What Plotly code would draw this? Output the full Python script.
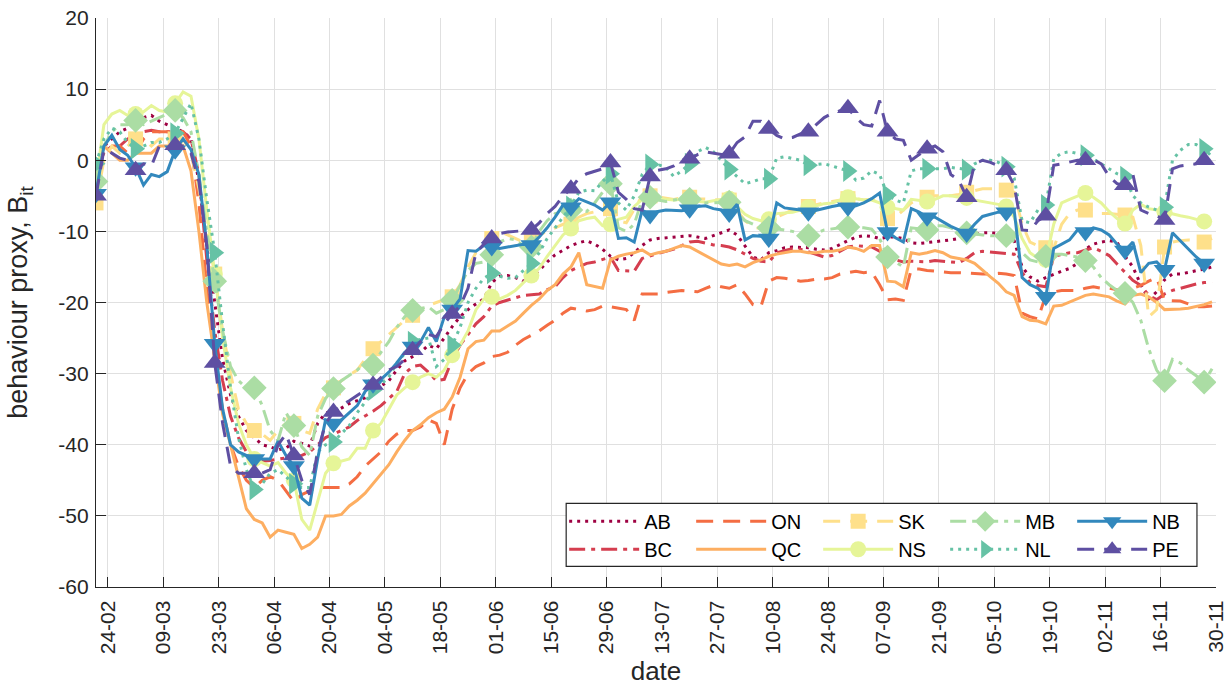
import pandas as pd
import plotly.graph_objects as go

# ---------------- data (every 2 days from 21 Feb 2020) ----------------
START_DATE = "2020-02-21"
STEP = "2D"

AB = [-1, 2, 3, 4, 4.5, 5, 6, 6.3, 5.5, 5,
      4.5, 4, 3, -3, -12, -20, -28, -33, -36, -38,
      -39, -40, -40.3, -40.7, -40.5, -39.5, -39.8, -40.2, -37, -35.5,
      -35.5, -34.8, -34.2, -33.8, -33.4, -32.5, -31.8, -31, -29.5, -28.2,
      -27.6, -27, -26, -26.5, -25, -23.4, -22, -21, -20.2, -19.5,
      -17.2, -16.3, -16.2, -16.5, -17, -16.4, -15.5, -14.3, -13.3, -12.6,
      -12, -11.6, -11.3, -11.8, -12.5, -13.5, -14, -13.8, -13, -12,
      -11.2, -11, -10.9, -10.8, -10.6, -10.6, -10.8, -11, -10.6, -10.2,
      -9.8, -10.5, -12, -13.6, -14, -13, -12.7, -12.3, -12.2, -12.2,
      -12.3, -12.5, -12.6, -12.4, -11.8, -11.3, -10.8, -10.6, -10.7, -11,
      -10.8, -10.8, -11, -11.6, -11.7, -11.6, -11.5, -11.3, -11.2, -11,
      -10.8, -10.4, -10.2, -10.2, -10.3, -10.3, -11.3, -15, -16.4, -17,
      -16.5, -16, -15.6, -15.2, -14.5, -12.5, -11.8, -11.5, -11.3, -11.5,
      -13.5, -15, -17.5, -19.5, -18.5, -16.8, -16, -16, -15.8, -15.5,
      -15.3, -15]

BC = [-1, 1, 2, 2, 3, 3.5, 4, 4.2, 4, 4,
      4, 4, 3, -2, -14, -24, -31, -36, -39, -41,
      -42, -42.3, -42.2, -42, -41.8, -41.6, -41.5, -41, -40, -39,
      -38.5, -38, -37.5, -36.6, -36, -35.3, -34.5, -33.5, -32.5, -30,
      -29, -28.8, -29.8, -31, -30.8, -28, -26, -24.5, -23, -22,
      -20.5, -20, -19.7, -19.3, -19, -18.9, -18.8, -18.2, -17.8, -16.5,
      -15.5, -15, -14.5, -14.3, -14, -13.6, -15.5, -15.6, -15.6, -13.8,
      -13.4, -13.1, -12.8, -12.5, -12, -11.5, -11.4, -11.7, -11.9, -12,
      -12.2, -12.6, -13.2, -13.8, -14.2, -14.3, -13, -12.7, -12.4, -12.5,
      -12.9, -13.2, -13.6, -13.4, -12.8, -12.2, -12, -12.1, -12.2, -12.8,
      -13.5, -14, -14.3, -14.2, -14.2, -14.3, -14.1, -14.2, -14.3, -14.4,
      -13.8, -13, -12.8, -12.9, -13, -13.1, -13.2, -15.8, -17.2, -17.6,
      -17.8, -13.5, -13.2, -13, -13, -12.6, -12.3, -12.8, -13.4, -14.6,
      -15.8, -16.9, -17.6, -19, -19.6, -18.8, -18.3, -18, -17.6, -17.4,
      -17.2, -17.1]

ON = [-1, 1, 2, 2, 1, 1, 3, 4, 4, 4,
      4, 4, 2, -6, -18, -28, -35, -40, -43, -45,
      -46, -45, -44.5, -45, -46.5, -48, -47, -46.5, -46, -46,
      -46, -46, -45.5, -44.5, -43, -42, -41, -39.5, -38.5, -38,
      -38, -37.5, -36.5, -37, -40, -35, -32, -30, -29, -28.5,
      -27.6, -27.4, -27, -26, -25.2, -24.6, -24, -23.2, -22.5, -21.5,
      -20.8, -21, -21.2, -21, -20.5, -20.6, -20.8, -21, -22.5, -18.8,
      -18.8, -18.8, -18.6, -18.5, -18.3, -18.4, -18.5, -18, -17.6, -17.8,
      -18, -17.5, -18.8, -20.3, -20.6, -17, -16.5, -16.6, -16.8, -17,
      -16.9, -16.7, -16.7, -16.5, -16, -15.8, -15.6, -15.8, -15.7, -17.5,
      -19.6, -19.5, -19.7, -15.3, -15.3, -15.5, -15.6, -15.8, -15.8, -15.8,
      -15.9, -16, -16, -16, -15.9, -16, -16.2, -21.5, -22, -22.3,
      -19, -18.5, -18.3, -18.3, -18.3, -18, -17.8, -18, -18, -18.2,
      -18.3, -18, -17.6, -17, -16.5, -19.7, -19.8, -19.8, -20.2, -20.6,
      -20.6, -20.5]

QC = [-2, 2, 1, 0, 0, 1, 1, 1, 2, 2,
      2, 2, -1.5, -10, -20, -28, -35.7, -40, -44.5, -49,
      -50.5, -51, -53, -52, -52.3, -52.6, -54.6, -54, -53, -50,
      -50, -49.8, -48.6, -47.8, -46.8, -45.5, -44.2, -42.8, -41, -39.4,
      -38, -37.2, -36.2, -35.5, -35, -33.3, -30.5, -26.5, -25.5, -25.3,
      -24, -24, -23.3, -22.6, -21.5, -20.4, -19.5, -18.3, -17.5, -16,
      -15, -13, -17.5, -17.8, -18, -14, -13.5, -13.2, -13, -12.6,
      -13.3, -13, -12.8, -12.4, -12, -12.2, -12.8, -13.4, -14, -14.6,
      -14.8, -14.6, -15, -14.4, -14, -13.5, -13.2, -13, -12.8, -12.8,
      -13, -13, -12.8, -12.8, -12.6, -12.2, -12.4, -12.8, -12, -12,
      -17, -17.1, -17.8, -13, -13.2, -13, -12.7, -13, -13.6, -13.8,
      -14, -14.5, -15.5, -16.4, -17.3, -18.5, -19, -22, -22.5, -22.6,
      -23, -20.5, -20.4, -19.9, -19.5, -19, -18.8, -19, -19.2, -19.8,
      -20.2, -19, -18.8, -19.2, -20, -21, -21, -20.9, -20.8, -20.6,
      -20.3, -19.9]

SK = [-6, 0, 2, 1, 2, 3, 3, 2, 3, 3,
      3, 3, 1, -4, -10, -16, -24, -30, -35, -37,
      -38, -38.5, -39.4, -38, -37, -37, -38, -38.4, -35, -32.8,
      -32, -31, -30.2, -29.5, -28, -26.5, -25.5, -24.5, -23.5, -22.5,
      -21.8, -21, -20.4, -20, -19.6, -19.2, -17.5, -15, -13, -12,
      -11, -10, -10.5, -11, -11.5, -11, -10.5, -10, -9.5, -9,
      -9, -8, -7.5, -7.2, -7, -6.8, -8.5, -8.8, -7, -5,
      -5, -5.2, -5.4, -5.5, -5.3, -5.2, -5.4, -5.5, -5.6, -5.6,
      -5.6, -7, -8.5, -9.4, -9.6, -9, -8, -7.5, -7, -6.8,
      -6.5, -6.2, -6, -5.8, -5.6, -5.4, -5.4, -5.6, -5.5, -6,
      -8.2, -8, -7, -6, -5.5, -5.2, -5, -5, -5, -4.8,
      -4.5, -4.2, -4, -4, -4, -4.2, -4.5, -9, -11.5, -12,
      -12.3, -12.4, -9, -7.5, -7, -7, -7.2, -7.5, -7.5, -7.6,
      -7.7, -8, -12, -22, -21, -12.2, -11.5, -11.3, -11.2, -11.3,
      -11.5, -11]

NS = [-3, 5, 6.5, 7, 6.3, 6.5, 6.8, 7.7, 7, 6.8,
      8, 9.6, 9, 3, -7, -16, -25, -32, -37, -40,
      -42, -42.5, -43, -42.5, -44, -45, -50.5, -52, -48, -44,
      -42.6, -42.3, -42, -40.5, -40.5, -38, -37, -35, -33, -32,
      -31.2, -30.5, -30, -30.5, -29.5, -27.4, -26, -24, -21, -19.5,
      -19.2, -19.5, -19, -18.3, -17.2, -16.2, -15.2, -13.5, -12, -10.5,
      -9.6, -8.5, -8.2, -8, -9.2, -9, -8.3, -8, -6.5, -5.5,
      -5.3, -5.3, -5.5, -5.6, -5.5, -5.6, -5.8, -5.9, -5.7, -5.5,
      -5.4, -6.5, -7.6, -8.2, -8.5, -8.3, -7.5, -7.4, -7.3, -7,
      -6.6, -6.4, -6.1, -6, -5.6, -5.2, -5.4, -5.6, -5.6, -6,
      -6.6, -6.8, -7, -5.5, -5.6, -5.8, -5.5, -5, -5, -5.2,
      -5.3, -5.5, -5.8, -6, -6.2, -6.5, -8, -11, -13, -13.8,
      -14, -9, -6, -5.5, -5.1, -4.6, -5.2, -6, -7.2, -8.2,
      -8.9, -7, -6.2, -6.8, -7, -7.3, -7.5, -7.8, -8, -8.3,
      -8.6, -8.5]

MB = [-3, 2, 4, 5, 5, 5.6, 5, 5.5, 6, 6.5,
      7, 6, 4, -2, -10, -17, -24, -29, -31, -32,
      -32, -34.5, -38, -39.4, -35.5, -37.3, -40.3, -41.5, -36, -33.5,
      -32.1, -31, -30.2, -29.5, -28.5, -28.8, -27, -25.5, -23.5, -22,
      -21.1, -20.8, -20.6, -21.5, -21, -19.7, -17.5, -15.5, -14.5, -14.3,
      -13.3, -11.5, -11, -11.2, -12, -12.2, -10, -8.5, -7.5, -7.2,
      -7, -7, -7.2, -6, -4.5, -3.3, -9.5, -10, -9, -5.5,
      -5.2, -5.6, -5.8, -5.6, -5.4, -5.5, -5.9, -6, -6, -6,
      -5.9, -7.5, -8.5, -9, -9.4, -9.5, -9.6, -9.8, -10, -10.4,
      -10.6, -10.3, -9.8, -9.6, -9.5, -9.4, -9.4, -9.5, -9.7, -11,
      -13.6, -14.3, -15, -9.5, -9.6, -9.8, -9.2, -9.2, -9.5, -10,
      -10.2, -10.4, -10.5, -10.6, -10.6, -10.6, -11.5, -13, -14, -14.3,
      -13.5, -13.2, -13.2, -13.4, -13.6, -14.1, -15, -16.5, -17.5, -18.3,
      -18.7, -20, -22.5, -26.5, -29.5, -31, -28, -28.5, -29.5, -30.3,
      -31.2, -29.3]

NL = [-0.5, 3, 4.5, 4, 2.5, 1.6, 2, 2.5, 2.5, 3,
      3.8, 6, 8, 3, -5.5, -13, -23, -32, -39, -43.5,
      -46.3, -45.5, -44, -43.5, -44.5, -45.5, -46, -46, -41, -40,
      -39.6, -38.5, -37.3, -35.5, -34, -32.3, -31.5, -30.5, -28.5, -27.2,
      -25.5, -25.2, -25, -29, -28, -26, -23.5, -20, -18, -16.6,
      -15.9, -16.3, -16.6, -16.5, -15.5, -14.5, -13, -11, -9.5, -8,
      -6.5, -4.5, -4.2, -4.3, -3, -1.9, -6, -7, -5, -2,
      -0.6, -0.6, -1, -2.3, -1.5, -0.5, 1.2, 1.8, 1.2, 0,
      -1.3, -2.3, -3.3, -3, -2.6, -2.6, 0.3, 0.5, 0.3, 0,
      -0.7, -0.6, -0.5, -0.8, -1.2, -1.5, -2.8, -2.5, -1.5, -2,
      -4.9, -5.6, -6, -1.5, -1.2, -1.2, -1.3, -1.2, -1, -1.1,
      -1.3, -0.5, 0, 0, -0.3, -0.9, -2.5, -8.5, -8.8, -7,
      -6.3, 0.2, 1, 1.2, 1, 0.7, 0.2, -0.5, -1.2, -1.9,
      -2.3, -5, -6, -6.6, -7, -6.6, 0, 1.4, 2.2, 2.2,
      1.6, 0.5]

NB = [-4.7, 2, 3.5, 1.5, 0.7, -1, -3.5, -2, -2.3, -1.6,
      1.4, 3, 1.5, -2, -12, -25.8, -35, -40, -41, -41.5,
      -42, -42, -42, -39.5, -41.5, -43, -47.5, -48.5, -42, -36.5,
      -37, -36.5, -35.5, -34.5, -32.5, -31.5, -30.8, -29.8, -28.5, -27,
      -26.2, -25.5, -23.5, -25.5, -22, -21, -19.5, -12.7, -12.8, -12,
      -12.2, -12.4, -12.2, -12, -11.8, -11.9, -10.8, -9.5, -8, -6.3,
      -6.6, -5.4, -5.8, -6.3, -7, -5.9, -11, -10.9, -11.5, -7,
      -7.7, -7.2, -7, -7, -7.1, -6.9, -6.5, -6.4, -6.8, -7,
      -7.5, -6.2, -11.2, -10.6, -10.7, -11, -6, -6.7, -6.8, -7,
      -7.3, -7, -6.8, -6.5, -6.3, -6.6, -6.4, -6, -5.4, -4.6,
      -10.1, -10.9, -11.5, -6.8, -7.3, -8, -8, -8.7, -9.3, -9.8,
      -10.3, -9, -7.9, -7.6, -7.3, -7.3, -7, -16.5, -17.5, -18,
      -19.2, -12.4, -11.8, -11.2, -9.8, -10.1, -9.5, -9.8, -10.5, -11.8,
      -12.7, -11.5, -15.8, -14.5, -14.3, -15.4, -10.2, -11.3, -12.5, -13.6,
      -14.5, -14.1]

PE = [-5, 1.5, 1, 0.3, 0, -1.4, -0.5, -0.8, 2, 1.4,
      2.1, 2, 1, -3, -12, -28.5, -37, -43, -44, -44,
      -44, -44, -43.5, -40, -38.5, -41.5, -45, -47, -41, -37,
      -35.4, -34.5, -33.8, -33, -32.3, -31.6, -30.5, -29.5, -29, -28,
      -26.7, -25.5, -24.5, -24.8, -23, -21.6, -20.5, -18, -13, -11.8,
      -11, -10.3, -10.1, -10, -9.9, -9.8, -8.8, -7.5, -6.5, -5,
      -4, -2.5, -1.9, -1.6, -1.2, -0.3, -4.5, -5.5, -6.8, -7,
      -2.3, -1.4, -1.2, -0.8, 0, 0.2, 0.8, 1.2, 1, 0.8,
      0.9, 2.5, 3.3, 5.5, 5.5, 4.4, 3.5, 3, 3.2, 3.7,
      4, 5, 6, 6.6, 7, 7.3, 6, 5, 4.8, 8.4,
      4, 3, 2.8, 0, 0.8, 1.6, 2, 1.2, -2, -2.8,
      -5.2, -0.5, 0, -0.3, -0.8, -1.4, -3.5, -9.8, -9.9, -8.5,
      -7.8, -0.7, -0.5, -0.2, 0, 0, 0.1, -0.5, -2.3, -3.3,
      -3.5, -2, -7, -7.5, -7.8, -8.4, -1.2, -0.8, -0.7, -0.5,
      0, -0.5]

SERIES_NAMES = ["AB", "BC", "ON", "QC", "SK", "NS", "MB", "NL", "NB", "PE"]
SERIES_VALUES = [AB, BC, ON, QC, SK, NS, MB, NL, NB, PE]

X_TICK_DATES = ["2020-02-24", "2020-03-09", "2020-03-23", "2020-04-06", "2020-04-20",
                "2020-05-04", "2020-05-18", "2020-06-01", "2020-06-15", "2020-06-29",
                "2020-07-13", "2020-07-27", "2020-08-10", "2020-08-24", "2020-09-07",
                "2020-09-21", "2020-10-05", "2020-10-19", "2020-11-02", "2020-11-16",
                "2020-11-30"]
X_TICK_LABELS = ["24-02", "09-03", "23-03", "06-04", "20-04", "04-05", "18-05", "01-06",
                 "15-06", "29-06", "13-07", "27-07", "10-08", "24-08", "07-09", "21-09",
                 "05-10", "19-10", "02-11", "16-11", "30-11"]
Y_TICK_VALUES = [20, 10, 0, -10, -20, -30, -40, -50, -60]
Y_TICK_LABELS = ["20", "10", "0", "-10", "-20", "-30", "-40", "-50", "-60"]
X_RANGE = ["2020-02-21", "2020-11-30"]
Y_RANGE = [-60, 20]

# ---------------- styles ----------------
COLORS = {"AB": "#9e0142", "BC": "#d53e4f", "ON": "#f46d43", "QC": "#fdae61",
          "SK": "#fee08b", "NS": "#e6f598", "MB": "#abdda4", "NL": "#66c2a5",
          "NB": "#3288bd", "PE": "#5e4fa2"}
DOT = "3px,5px"
DASH = "17px,10px"
DASHDOT = "16px,6px,4px,6px"
STYLES = {
    "AB": dict(dash=DOT, symbol=None, size=0),
    "BC": dict(dash=DASHDOT, symbol=None, size=0),
    "ON": dict(dash=DASH, symbol=None, size=0),
    "QC": dict(dash="solid", symbol=None, size=0),
    "SK": dict(dash=DASH, symbol="square", size=15),
    "NS": dict(dash="solid", symbol="circle", size=16),
    "MB": dict(dash=DASHDOT, symbol="diamond", size=19),
    "NL": dict(dash=DOT, symbol="triangle-right", size=19),
    "NB": dict(dash="solid", symbol="triangle-down", size=19),
    "PE": dict(dash=DASH, symbol="triangle-up", size=19),
}
LEGEND_ROW = {"AB": "legend", "ON": "legend", "SK": "legend", "MB": "legend", "NB": "legend",
              "BC": "legend2", "QC": "legend2", "NS": "legend2", "NL": "legend2", "PE": "legend2"}
MARKER_EVERY = 5
FONT = "Liberation Sans, Arial, Helvetica, sans-serif"
AXIS_COLOR = "#262626"
GRID_COLOR = "#e0e0e0"

fig = go.Figure()
for name, values in zip(SERIES_NAMES, SERIES_VALUES):
    dates = pd.date_range(start=START_DATE, periods=len(values), freq=STEP)
    st = STYLES[name]
    col = COLORS[name]
    kw = dict(x=dates, y=values, name=name, legend=LEGEND_ROW[name],
              line=dict(color=col, width=3, dash=st["dash"]), hoverinfo="skip")
    if st["symbol"]:
        kw["mode"] = "lines+markers"
        kw["marker"] = dict(symbol=st["symbol"], size=st["size"],
                            color=[col if i % MARKER_EVERY == 0 else "rgba(0,0,0,0)"
                                   for i in range(len(values))],
                            line=dict(width=0))
    else:
        kw["mode"] = "lines"
    fig.add_trace(go.Scatter(**kw))

legend_common = dict(orientation="h", xanchor="left", yanchor="middle",
                     bgcolor="rgba(0,0,0,0)", borderwidth=0,
                     font=dict(family=FONT, size=20, color="#000000"),
                     entrywidth=42, entrywidthmode="pixels", itemwidth=70,
                     itemclick=False, itemdoubleclick=False)

fig.update_layout(
    width=1228, height=686,
    template="none",
    paper_bgcolor="white", plot_bgcolor="white",
    margin=dict(l=96, r=12, t=18, b=99, pad=0),
    font=dict(family=FONT, size=21, color=AXIS_COLOR),
    legend=dict(x=0.418, y=0.1154, **legend_common),
    legend2=dict(x=0.418, y=0.0663, **legend_common),
    xaxis=dict(
        type="date", range=X_RANGE, tickmode="array", tickvals=X_TICK_DATES,
        ticktext=X_TICK_LABELS, tickangle=-90, ticks="inside", ticklen=10,
        tickcolor=AXIS_COLOR, tickwidth=1.3, showline=True, linecolor=AXIS_COLOR,
        linewidth=1.3, mirror=False, showgrid=True, gridcolor=GRID_COLOR, gridwidth=1,
        zeroline=False, tickfont=dict(family=FONT, size=21, color=AXIS_COLOR),
        ticklabelstandoff=4, ticklabeloverflow="allow",
        title=dict(text="date", font=dict(family=FONT, size=26, color=AXIS_COLOR), standoff=16),
        automargin=False,
    ),
    yaxis=dict(
        range=Y_RANGE, tickmode="array", tickvals=Y_TICK_VALUES, ticktext=Y_TICK_LABELS,
        ticks="inside", ticklen=10, tickcolor=AXIS_COLOR, tickwidth=1.3,
        showline=True, linecolor=AXIS_COLOR, linewidth=1.3, mirror=False,
        showgrid=True, gridcolor=GRID_COLOR, gridwidth=1, zeroline=False,
        tickfont=dict(family=FONT, size=21, color=AXIS_COLOR),
        ticklabelstandoff=2, ticklabeloverflow="allow",
        title=dict(text="behaviour proxy, B<sub>it</sub>",
                   font=dict(family=FONT, size=27, color=AXIS_COLOR), standoff=22),
        automargin=False,
    ),
    shapes=[dict(type="rect", xref="paper", yref="paper", x0=0.4198, x1=0.983,
                 y0=0.0364, y1=0.1471, line=dict(color=AXIS_COLOR, width=1.2),
                 fillcolor="white", layer="above")],
)

# remove the page's default 8px body margin so the 1228x686 figure fills the window
fig.write_html("out.html", config={"displayModeBar": False},
               post_script="document.body.style.margin='0px';")
